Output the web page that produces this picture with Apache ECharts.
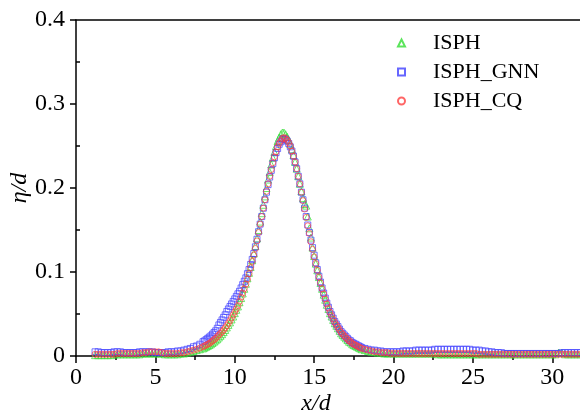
<!DOCTYPE html>
<html>
<head>
<meta charset="utf-8">
<script src="https://cdn.jsdelivr.net/npm/echarts@6/dist/echarts.min.js"></script>
<style>html,body{margin:0;padding:0;background:#fff;}#c{width:580px;height:416px;}</style>
</head>
<body>
<div id="c"></div>
<script>
// x/d sampling positions
const xs = [
1.2,1.4,1.6,1.8,2.0,2.2,2.4,2.6,2.8,3.0,3.2,3.4,3.6,3.8,4.0,4.2,4.4,4.6,4.8,5.0,
5.2,5.4,5.6,5.8,6.0,6.2,6.4,6.6,6.8,7.0,7.2,7.4,7.6,7.8,8.0,
8.1,8.2,8.3,8.4,8.5,8.6,8.7,8.8,8.9,9.0,9.1,9.2,9.3,9.4,9.5,9.6,9.7,9.8,9.9,10.0,
10.1,10.2,10.3,10.4,10.5,10.6,10.7,10.8,10.9,11.0,11.1,11.2,11.3,11.4,11.5,11.6,11.7,11.8,11.9,12.0,
12.1,12.2,12.3,12.4,12.5,12.6,12.7,12.8,12.9,13.0,13.1,13.2,13.3,13.4,13.5,13.6,13.7,13.8,13.9,14.0,
14.1,14.2,14.3,14.4,14.5,14.6,14.7,14.8,14.9,15.0,15.1,15.2,15.3,15.4,15.5,15.6,15.7,15.8,15.9,16.0,
16.1,16.2,16.3,16.4,16.5,16.6,16.7,16.8,16.9,17.0,17.1,17.2,17.3,17.4,17.5,17.6,17.7,17.8,17.9,18.0,
18.2,18.4,18.6,18.8,19.0,19.2,19.4,19.6,19.8,20.0,20.2,20.4,20.6,20.8,21.0,21.2,21.4,21.6,21.8,22.0,
22.2,22.4,22.6,22.8,23.0,23.2,23.4,23.6,23.8,24.0,24.2,24.4,24.6,24.8,25.0,25.2,25.4,25.6,25.8,26.0,
26.2,26.4,26.6,26.8,27.0,27.2,27.4,27.6,27.8,28.0,28.2,28.4,28.6,28.8,29.0,29.2,29.4,29.6,29.8,30.0,
30.2,30.4,30.6,30.8,31.0,31.2,31.4,31.6,31.8,32.0
];

// eta/d values (x 1/1000)
const isph = [
1,1,1,1,1,1,2,2,2,2, 2,2,2,2,2,3,3,3,3,3, 3,3,2,2,2,2,2,3,3,4, 5,6,7,8,9,
10,11,12,13,14,15.5,17,18.5,20,22, 24,26,28.5,31,34,37,40,43.5,47,51,
55,59,64,69,74.5,80,86,92.5,99,106, 114,122,131,140,150,160,170,180,190,200,
210,219,228,236,243,250,256,260,264,266,
266,264,261,257,252,246,239,231,223,214, 205,196,188,181,179,166,152,141,129,119,
110,102,94,87,80,73,67,61,56,51, 47,43,39,36,33,30,27,25,23,21,
19,17,16,14,13,12,11,10,9,8,
7,6,5,5,4,4,3,3,3,3, 3,3,3,3,3,3,3,3,3,3, 3,3,3,2,2,2,2,2,2,2,
2,2,2,2,2,2,2,2,2,2, 2,2,2,2,2,2,2,2,2,2, 2,2,2,2,2,2,2,2,2,2,
2,4,4,2,2,2,2,2,2,2
];
const isphGnn = [
5,5,4,4,4,4,5,5,5,4, 4,4,4,4,5,5,5,5,5,4, 4,4,4,5,5,5,6,6,7,8, 9,11,12,14,17,
18,19.5,21,22.5,24,26,28,30,33,37, 40,43,46,49,53,56,59,62,65,68,
71,74,77,81,85,89,93,98,103,109, 115,122,130,139,148,157,166,176,186,195,
204,213,221,229,236,242,247,252,255,258,
259,258,256,253,249,244,238,231,223,214, 205,195,186,176,166,156,147,138,129,120,
111,103,95,88,81,75,69,63,58,53, 49,45,41,38,35,32,29,27,25,23,
21,19,18,16,15,14,13,12,11,10,
9,8,7,7,6,6,5,5,5,5, 5,5,6,6,6,6,7,7,7,7, 7,7,8,8,8,8,8,8,8,8,
8,8,8,8,7,7,7,6,6,5, 5,4,4,4,3,3,3,3,3,3, 3,3,3,3,3,3,3,3,3,3,
3,3,4,4,4,4,4,4,4,5
];
const isphCq = [
2,2,2,2,2,2,2,3,3,3, 3,3,3,3,3,4,4,5,5,5, 5,4,3,3,3,3,3,4,4,5, 6,7,8,9.5,11,
12,13,14,15,16.5,18,19.5,21,23,25, 27,29,31,33.5,36,39,42,45.5,49,52.5,
56,60,65,70,75,80,85.5,91.5,98,105, 112.5,120,128,137,147,157,166,176,186,196,
205,214,222,230,237,243,249,253,256,259,
260,259,257,254,250,244,238,231,223,214, 205,195,185,175,165,155,146,136,127,118,
110,102,94,87,80,74,68,62,57,52, 48,44,40,37,34,31,28,26,24,22,
20,18,17,15,14,13,12,11,10,9,
8,7,6,5,5,4,4,4,3,3, 3,3,3,3,3,3,3,3,3,3, 3,3,3,3,3,3,3,3,3,3,
3,3,3,3,3,3,2,2,2,2, 2,2,2,2,2,2,2,2,2,2, 2,2,2,2,2,2,2,2,2,2,
2,2,2,2,2,2,2,2,2,2
];

const seriesNames = ['ISPH', 'ISPH_GNN', 'ISPH_CQ'];
const xTicks = [0, 5, 10, 15, 20, 25, 30];
const yTicks = [0, 0.1, 0.2, 0.3, 0.4];

const FONT = "'Liberation Serif', 'Times New Roman', Times, serif";
const pts = arr => xs.map((x, i) => [x, arr[i] / 1000]);

const chart = echarts.init(document.getElementById('c'), null, {renderer: 'canvas'});
const mk = (name, arr, symbol, color, size) => ({
  name, type: 'scatter', data: pts(arr), symbol, symbolSize: size,
  itemStyle: {color: 'rgba(255,255,255,0)', borderColor: color, borderWidth: 0.9},
  emphasis: {disabled: true}, animation: false
});

chart.setOption({
  backgroundColor: '#fff',
  animation: false,
  grid: {left: 76, top: 20, right: -4, bottom: 60, containLabel: false, outerBoundsMode: 'none'},
  legend: {
    orient: 'vertical', left: 392, top: 27, itemWidth: 7, itemHeight: 7, itemGap: 7,
    data: seriesNames,
    textStyle: {fontFamily: FONT, fontSize: 22, color: '#000', padding: [0, 0, 0, 23]}
  },
  xAxis: [{
    type: 'value', min: 0, max: 32, interval: 5,
    name: 'x/d', nameLocation: 'middle', nameGap: 36, nameMoveOverlap: false,
    nameTextStyle: {fontFamily: FONT, fontStyle: 'italic', fontSize: 24, color: '#000', padding: [0, 28, 0, 0]},
    axisLine: {onZero: false, lineStyle: {color: '#000', width: 1.5}},
    axisTick: {inside: false, length: 7, lineStyle: {color: '#000', width: 1.5}},
    minorTick: {show: true, splitNumber: 2, length: 4, lineStyle: {color: '#000', width: 1.5}},
    axisLabel: {fontFamily: FONT, fontSize: 24, color: '#000', margin: 10, showMaxLabel: false,
      formatter: v => (xTicks.indexOf(v) >= 0 ? String(v) : '')},
    splitLine: {show: false}
  }, {
    type: 'value', position: 'top', min: 0, max: 32,
    axisLine: {show: true, onZero: false, lineStyle: {color: '#000', width: 1.5}},
    axisTick: {show: false}, axisLabel: {show: false}, splitLine: {show: false}
  }],
  yAxis: {
    type: 'value', min: 0, max: 0.4, interval: 0.1,
    name: 'η/d', nameLocation: 'middle', nameGap: 44, nameRotate: 90, nameMoveOverlap: false,
    nameTextStyle: {fontFamily: FONT, fontStyle: 'italic', fontSize: 24, color: '#000'},
    axisLine: {onZero: false, lineStyle: {color: '#000', width: 1.5}},
    axisTick: {inside: false, length: 6, lineStyle: {color: '#000', width: 1.5}},
    minorTick: {show: true, splitNumber: 2, length: -4, lineStyle: {color: '#000', width: 1.5}},
    axisLabel: {fontFamily: FONT, fontSize: 24, color: '#000', margin: 11,
      formatter: v => { const t = yTicks.find(y => Math.abs(y - v) < 1e-9); return t === undefined ? '' : String(t); }},
    splitLine: {show: false}
  },
  series: [
    mk(seriesNames[0], isph, 'triangle', '#33dd33', 7),
    mk(seriesNames[1], isphGnn, 'rect', '#4040ff', 6),
    mk(seriesNames[2], isphCq, 'circle', '#ff4040', 6)
  ]
});
</script>
</body>
</html>
